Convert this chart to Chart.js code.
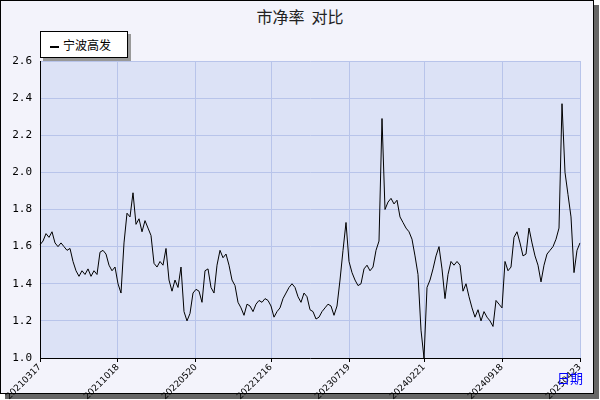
<!DOCTYPE html>
<html><head><meta charset="utf-8">
<script src="https://cdn.jsdelivr.net/npm/chart.js@4/dist/chart.umd.min.js"></script>
<style>
body{margin:0;width:600px;height:400px;position:relative;overflow:hidden;background:#fff;font-family:"Noto Sans CJK SC","DejaVu Sans",sans-serif}
#frame{position:absolute;left:0;top:0;width:592px;height:392px;border:1px solid #000;background:#F3F3FB;box-shadow:5px 5px 0 #666}
#title{position:absolute;left:0;width:600px;top:4px;text-align:center;font-size:16px;color:#222}
#legend{position:absolute;left:40px;top:31px;width:86px;height:25px;background:#fff;border:1px solid #000;box-shadow:3px 3px 0 #999;font-size:12px;line-height:25px}
#legend span.l{display:inline-block;width:9px;height:2px;background:#000;vertical-align:middle;margin:0 4px 0 9px}
#xlab{position:absolute;left:557px;top:368px;font-size:13px;color:#0000ff}
canvas{position:absolute;left:0;top:0}
</style></head><body>
<div id="frame"></div>
<div id="title">市净率&nbsp;&nbsp;对比</div>
<div id="legend"><span class="l"></span>宁波高发</div>
<canvas id="c" width="600" height="400"></canvas>
<div id="xlab">日期</div>
<script>
const seriesName = "宁波高发";
const values = [1.61,1.63,1.67,1.65,1.68,1.62,1.60,1.62,1.60,1.58,1.59,1.52,1.47,1.44,1.47,1.45,1.48,1.44,1.47,1.45,
1.57,1.58,1.56,1.50,1.47,1.49,1.40,1.35,1.62,1.78,1.76,1.89,1.72,1.75,1.68,1.74,1.70,1.66,1.51,1.49,
1.52,1.50,1.59,1.42,1.36,1.42,1.38,1.49,1.25,1.20,1.24,1.35,1.37,1.36,1.30,1.47,1.48,1.38,1.35,1.50,
1.58,1.54,1.56,1.50,1.42,1.39,1.30,1.27,1.23,1.29,1.28,1.25,1.29,1.31,1.30,1.32,1.31,1.28,1.22,1.25,
1.27,1.32,1.35,1.38,1.40,1.38,1.33,1.30,1.35,1.33,1.26,1.25,1.21,1.22,1.25,1.27,1.29,1.28,1.23,1.28,
1.42,1.58,1.73,1.52,1.46,1.42,1.39,1.40,1.48,1.50,1.47,1.49,1.58,1.63,2.29,1.80,1.84,1.86,1.83,1.85,
1.76,1.73,1.70,1.68,1.64,1.55,1.45,1.15,1.00,1.38,1.42,1.48,1.55,1.60,1.48,1.32,1.45,1.52,1.50,1.52,
1.50,1.36,1.40,1.33,1.27,1.22,1.26,1.20,1.25,1.22,1.20,1.17,1.31,1.29,1.27,1.52,1.47,1.49,1.65,1.68,
1.62,1.55,1.56,1.70,1.62,1.55,1.50,1.41,1.50,1.56,1.58,1.60,1.64,1.70,2.37,2.00,1.88,1.76,1.46,1.58,1.62];
const tickIdx = [0,26,52,77,103,128,154,180];
const tickLabels = ["20210317","20211018","20220520","20221216","20230719","20240221","20240918","20250423"];
const yTicks = {min:1.0,max:2.6,step:0.2};

const labels = values.map((v,i)=>{const k=tickIdx.indexOf(i);return k>=0?tickLabels[k]:"";});
const bg = {id:'bg',beforeDraw(c){const a=c.chartArea,x=c.ctx;x.save();x.fillStyle='#DCE2F6';x.fillRect(a.left,a.top,a.right-a.left,a.bottom-a.top);x.restore();}};
new Chart(document.getElementById('c'),{
 type:'line',
 data:{labels,datasets:[{label:seriesName,data:values,borderColor:'#000',borderWidth:1,pointRadius:0,tension:0,fill:false}]},
 options:{responsive:false,animation:false,
  layout:{padding:{left:0,top:61,right:20,bottom:0}},
  plugins:{legend:{display:false},tooltip:{enabled:false}},
  scales:{
   x:{offset:false,afterFit:s=>{s.height=42;},
      grid:{color:c=>tickIdx.includes(c.index)?'#B8C4EA':'rgba(0,0,0,0)',drawTicks:true,tickLength:4,tickColor:c=>tickIdx.includes(c.index)?'#000':'rgba(0,0,0,0)'},
      border:{color:'#000',width:1},
      ticks:{autoSkip:false,maxRotation:45,minRotation:45,color:'#000',font:{family:'DejaVu Sans',size:9},padding:0}},
   y:{min:yTicks.min,max:yTicks.max,afterFit:s=>{s.width=40;},
      grid:{color:'#B8C4EA',drawTicks:false},border:{color:'#000',width:1},
      ticks:{stepSize:yTicks.step,color:'#000',font:{family:'DejaVu Sans Mono',size:11},padding:8,callback:v=>v.toFixed(1)}}
  }},
 plugins:[bg]
});
</script></body></html>
